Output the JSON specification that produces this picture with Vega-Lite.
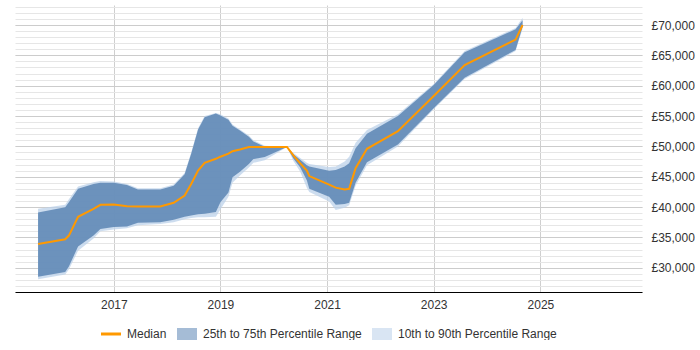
{
  "$schema": "https://vega.github.io/schema/vega-lite/v6.json",
  "width": 627,
  "height": 287,
  "padding": {"left": 15, "top": 5, "right": 0, "bottom": 0},
  "config": {
    "view": {"stroke": null},
    "font": "Liberation Sans",
    "legend": {
      "orient": "none",
      "legendX": 90,
      "legendY": 323,
      "direction": "horizontal",
      "symbolSize": 400,
      "labelFontSize": 12,
      "labelFont": "Liberation Sans",
      "labelColor": "#333333",
      "labelOffset": 10,
      "columnPadding": 10
    }
  },
  "data": {
    "values": [
      {"d": "2015-08-01", "p10": 28100, "p25": 28500, "med": 33900, "p75": 39100, "p90": 39700},
      {"d": "2016-02-03", "p10": 28900, "p25": 29300, "med": 34700, "p75": 39970, "p90": 40400},
      {"d": "2016-02-28", "p10": 29700, "p25": 30200, "med": 35300, "p75": 40800, "p90": 41300},
      {"d": "2016-05-01", "p10": 32800, "p25": 33500, "med": 38400, "p75": 43000, "p90": 43400},
      {"d": "2016-08-15", "p10": 34800, "p25": 35300, "med": 39700, "p75": 43800, "p90": 44100},
      {"d": "2016-10-01", "p10": 36000, "p25": 36400, "med": 40360, "p75": 44000, "p90": 44300},
      {"d": "2017-01-01", "p10": 36300, "p25": 36700, "med": 40400, "p75": 44000, "p90": 44200},
      {"d": "2017-04-01", "p10": 36500, "p25": 36800, "med": 40130, "p75": 43650, "p90": 43800},
      {"d": "2017-06-15", "p10": 37000, "p25": 37400, "med": 40100, "p75": 42900, "p90": 43100},
      {"d": "2017-11-15", "p10": 37200, "p25": 37500, "med": 40100, "p75": 42900, "p90": 43100},
      {"d": "2018-02-15", "p10": 37500, "p25": 37900, "med": 40700, "p75": 43500, "p90": 43700},
      {"d": "2018-05-01", "p10": 38000, "p25": 38400, "med": 41900, "p75": 45400, "p90": 45600},
      {"d": "2018-06-15", "p10": 38200, "p25": 38600, "med": 43800, "p75": 48800, "p90": 49000},
      {"d": "2018-08-01", "p10": 38300, "p25": 38800, "med": 46000, "p75": 52800, "p90": 53000},
      {"d": "2018-09-15", "p10": 38300, "p25": 38900, "med": 47300, "p75": 54800, "p90": 55000},
      {"d": "2018-12-01", "p10": 38400, "p25": 39200, "med": 47950, "p75": 55400, "p90": 55500},
      {"d": "2019-01-01", "p10": 39600, "p25": 40800, "med": 48300, "p75": 55100, "p90": 55300},
      {"d": "2019-02-25", "p10": 41700, "p25": 42400, "med": 48800, "p75": 54400, "p90": 54600},
      {"d": "2019-03-25", "p10": 44000, "p25": 44900, "med": 49200, "p75": 53400, "p90": 53600},
      {"d": "2019-05-15", "p10": 45200, "p25": 45800, "med": 49500, "p75": 52600, "p90": 52800},
      {"d": "2019-07-15", "p10": 46500, "p25": 47100, "med": 49900, "p75": 51600, "p90": 51800},
      {"d": "2019-08-15", "p10": 47300, "p25": 47900, "med": 49900, "p75": 50800, "p90": 51000},
      {"d": "2019-11-01", "p10": 47700, "p25": 48250, "med": 49900, "p75": 49950, "p90": 50100},
      {"d": "2020-04-01", "p10": 49900, "p25": 49900, "med": 49900, "p75": 49900, "p90": 49900},
      {"d": "2020-05-15", "p10": 47600, "p25": 48000, "med": 48500, "p75": 48700, "p90": 48900},
      {"d": "2020-07-01", "p10": 45800, "p25": 46500, "med": 47200, "p75": 47800, "p90": 48100},
      {"d": "2020-08-15", "p10": 43200, "p25": 44400, "med": 46000, "p75": 46900, "p90": 47300},
      {"d": "2020-09-01", "p10": 42500, "p25": 43000, "med": 45100, "p75": 46700, "p90": 47100},
      {"d": "2021-01-15", "p10": 40900, "p25": 41700, "med": 43700, "p75": 46000, "p90": 46600},
      {"d": "2021-03-01", "p10": 39500, "p25": 40400, "med": 43200, "p75": 46100, "p90": 46700},
      {"d": "2021-05-01", "p10": 39900, "p25": 40500, "med": 42900, "p75": 46700, "p90": 47500},
      {"d": "2021-06-01", "p10": 40300, "p25": 40700, "med": 43000, "p75": 47200, "p90": 48300},
      {"d": "2021-07-15", "p10": 43500, "p25": 44000, "med": 46400, "p75": 49700, "p90": 50600},
      {"d": "2021-10-01", "p10": 46900, "p25": 47400, "med": 49600, "p75": 52100, "p90": 52700},
      {"d": "2022-05-01", "p10": 50000, "p25": 50300, "med": 52500, "p75": 55000, "p90": 55300},
      {"d": "2023-01-01", "p10": 56100, "p25": 56300, "med": 58300, "p75": 60100, "p90": 60300},
      {"d": "2023-08-01", "p10": 61100, "p25": 61300, "med": 63400, "p75": 65500, "p90": 65700},
      {"d": "2024-07-15", "p10": 65700, "p25": 65900, "med": 67600, "p75": 69300, "p90": 69500},
      {"d": "2024-09-01", "p10": 69400, "p25": 69700, "med": 70000, "p75": 70800, "p90": 71200}
    ]
  },
  "encoding": {
    "x": {
      "field": "d",
      "type": "temporal",
      "scale": {"domain": ["2015-02-24", "2026-11-28"]},
      "axis": {
        "title": null,
        "values": [
          {"year": 2017, "month": 1, "date": 1},
          {"year": 2019, "month": 1, "date": 1},
          {"year": 2021, "month": 1, "date": 1},
          {"year": 2023, "month": 1, "date": 1},
          {"year": 2025, "month": 1, "date": 1}
        ],
        "format": "%Y",
        "grid": true,
        "gridColor": "#cfcfcf",
        "ticks": false,
        "domainColor": "#000000",
        "domainWidth": 1,
        "labelPadding": 7,
        "labelFontSize": 12,
        "labelColor": "#333333",
        "labelFont": "Liberation Sans"
      }
    },
    "color": {
      "datum": "Median",
      "type": "nominal",
      "scale": {
        "domain": ["Median", "25th to 75th Percentile Range", "10th to 90th Percentile Range"],
        "range": ["#ff9900", "#5e87b5", "#bcd1ea"]
      },
      "legend": {
        "title": null,
        "symbolType": "square",
        "encode": {
          "symbols": {
            "update": {
              "shape": {"signal": "datum.value === 'Median' ? 'stroke' : 'M-1,-0.6H1V0.6H-1Z'"},
              "fill": {"signal": "datum.value === 'Median' ? 'transparent' : (datum.value === '25th to 75th Percentile Range' ? '#86a5c7' : '#cddcee')"},
              "stroke": {"signal": "datum.value === 'Median' ? '#ff9900' : 'transparent'"},
              "strokeWidth": {"signal": "datum.value === 'Median' ? 3 : 0"},
              "opacity": {"signal": "datum.value === 'Median' ? 1 : 0.75"},
              "fillOpacity": {"signal": "datum.value === 'Median' ? 1 : 0.75"}
            }
          }
        }
      }
    }
  },
  "layer": [
    {
      "mark": {"type": "area", "opacity": 0.75},
      "encoding": {
        "y": {
          "field": "p10",
          "type": "quantitative",
          "scale": {"domain": [26000, 73300], "nice": false, "zero": false},
          "axis": {
            "orient": "left",
            "title": null,
            "values": [26000, 27000, 28000, 29000, 30000, 31000, 32000, 33000, 34000, 35000, 36000, 37000, 38000, 39000, 40000, 41000, 42000, 43000, 44000, 45000, 46000, 47000, 48000, 49000, 50000, 51000, 52000, 53000, 54000, 55000, 56000, 57000, 58000, 59000, 60000, 61000, 62000, 63000, 64000, 65000, 66000, 67000, 68000, 69000, 70000, 71000, 72000, 73000],
            "labels": false,
            "ticks": false,
            "domain": false,
            "grid": true,
            "gridColor": "#e6e6e6"
          }
        },
        "y2": {"field": "p90"},
        "color": {"datum": "10th to 90th Percentile Range", "type": "nominal"}
      }
    },
    {
      "mark": {"type": "area", "opacity": 0.88},
      "encoding": {
        "y": {
          "field": "p25",
          "type": "quantitative",
          "axis": {
            "orient": "right",
            "title": null,
            "values": [30000, 35000, 40000, 45000, 50000, 55000, 60000, 65000, 70000],
            "labelExpr": "'£' + format(datum.value, ',')",
            "ticks": false,
            "domain": false,
            "grid": true,
            "gridColor": "#cccccc",
            "labelPadding": 9,
            "labelFontSize": 12,
            "labelColor": "#333333",
            "labelFont": "Liberation Sans"
          }
        },
        "y2": {"field": "p75"},
        "color": {"datum": "25th to 75th Percentile Range", "type": "nominal"}
      }
    },
    {
      "mark": {"type": "line", "strokeWidth": 2},
      "encoding": {
        "y": {"field": "med", "type": "quantitative", "axis": null}
      }
    }
  ],
  "resolve": {"axis": {"y": "independent"}}
}
